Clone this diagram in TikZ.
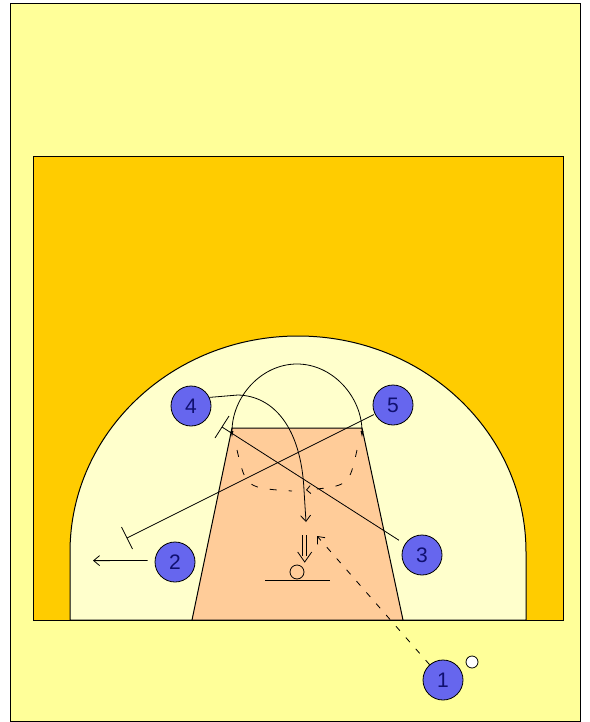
\documentclass[tikz,border=0pt]{standalone}
\usepackage{fontspec}
\setmainfont{Liberation Sans}
\usetikzlibrary{arrows.meta,calc}
\definecolor{bg}{HTML}{FFFF99}
\definecolor{court}{HTML}{FFCC00}
\definecolor{arcfill}{HTML}{FFFFCC}
\definecolor{lane}{HTML}{FFCC99}
\definecolor{plfill}{HTML}{6666EE}
\definecolor{plnum}{HTML}{101070}
\begin{document}
\begin{tikzpicture}[x=1pt,y=-1pt,
  player/.style={circle, draw=black, line width=0.8pt, fill=plfill, minimum size=40pt, inner sep=0pt, font=\fontsize{21}{21}\selectfont, text=plnum},
  ballnode/.style={circle, draw=black, line width=0.8pt, fill=white, minimum size=12pt, inner sep=0pt},
  mv/.style={line width=0.8pt, draw=black},
  pass/.style={line width=0.8pt, draw=black, dash pattern=on 6pt off 9pt},
  barb/.style={-{Straight Barb[length=6pt,width=10pt]}},
  courtline/.style={line width=1pt, draw=black},
]
\useasboundingbox (0,0) rectangle (589,722);
\fill[white] (0,0) rectangle (589,722);
\filldraw[courtline, fill=bg] (10,4) rectangle (580,721);
\filldraw[courtline, fill=court] (33,157) rectangle (563,620);
% three point area
\filldraw[courtline, fill=arcfill] (70,620) -- (70,552) arc[start angle=180, end angle=360, x radius=228, y radius=216] -- (526,620) -- cycle;
% lane
\filldraw[courtline, fill=lane] (192,620) -- (232,428) -- (362,428) -- (403,620) -- cycle;
\draw[courtline] (33,620) -- (563,620);
% basket
\draw[courtline] (265,580) -- (330,580);
\filldraw[mv, fill=lane] (297,572) circle (7);

% players
\node[player] (p4) at (191,406) {4};
\node[player] (p5) at (393,405) {5};
\node[player] (p2) at (175,562) {2};
\node[player] (p3) at (422,555) {3};
\node[player] (p1) at (443,680) {1};
\node[ballnode] (ball) at (472,662) {};

% coordinates
\coordinate (le) at (232,438);
\coordinate (re) at (362,438);
\coordinate (c4) at (306,522);
\coordinate (s3) at (222,427);
\coordinate (s5) at (127,538);
\coordinate (a2) at (93,560.6);
\coordinate (a1) at (317,536);
\coordinate (sh0) at (304.7,535);
\coordinate (sh1) at (304.7,562);
\coordinate (d1) at (237,450);
\coordinate (d2) at (292,491);
\coordinate (d3) at (357,450);
\coordinate (d4) at (306,490);

% loop over the top of the key
\draw[mv, {Latex[length=7pt,width=3pt]}-{Latex[length=7pt,width=3pt]}] (le) arc[start angle=180, end angle=360, x radius=65, y radius=74];

% 4 cuts to the basket
\draw[mv, barb] (p4.25) -- (238,395) .. controls (274,396) and (301,428) .. (304,490) -- (c4);

% 3 screens at the left elbow
\draw[mv, shorten <=7pt] (p3) -- (s3);
\draw[mv] ($(s3)+(-7,11)$) -- ($(s3)+(7,-11)$);

% 5 screens for 2
\draw[mv, shorten <=1pt] (p5) -- (s5);
\draw[mv] ($(s5)+(-5.5,-11)$) -- ($(s5)+(5.5,11)$);

% 2 moves out
\draw[mv, barb, shorten <=7pt] (p2.176) -- (a2);

% pass from 1
\draw[pass, barb] (p1) -- (a1);

% shot
\draw[line width=0.8pt, double=lane, double distance=3pt, shorten >=6pt] (sh0) -- (sh1);
\draw[mv] ($(sh1)+(-7,-10)$) -- (sh1) -- ($(sh1)+(7,-10)$);

% passes from the elbows
\draw[pass, dash pattern=on 7pt off 12pt] (d1) .. controls (246,488) .. (d2);
\draw[pass, dash pattern=on 7pt off 12pt, -{Straight Barb[length=4pt,width=8pt]}] (d3) .. controls (349,486) .. (d4);
\end{tikzpicture}
\end{document}
